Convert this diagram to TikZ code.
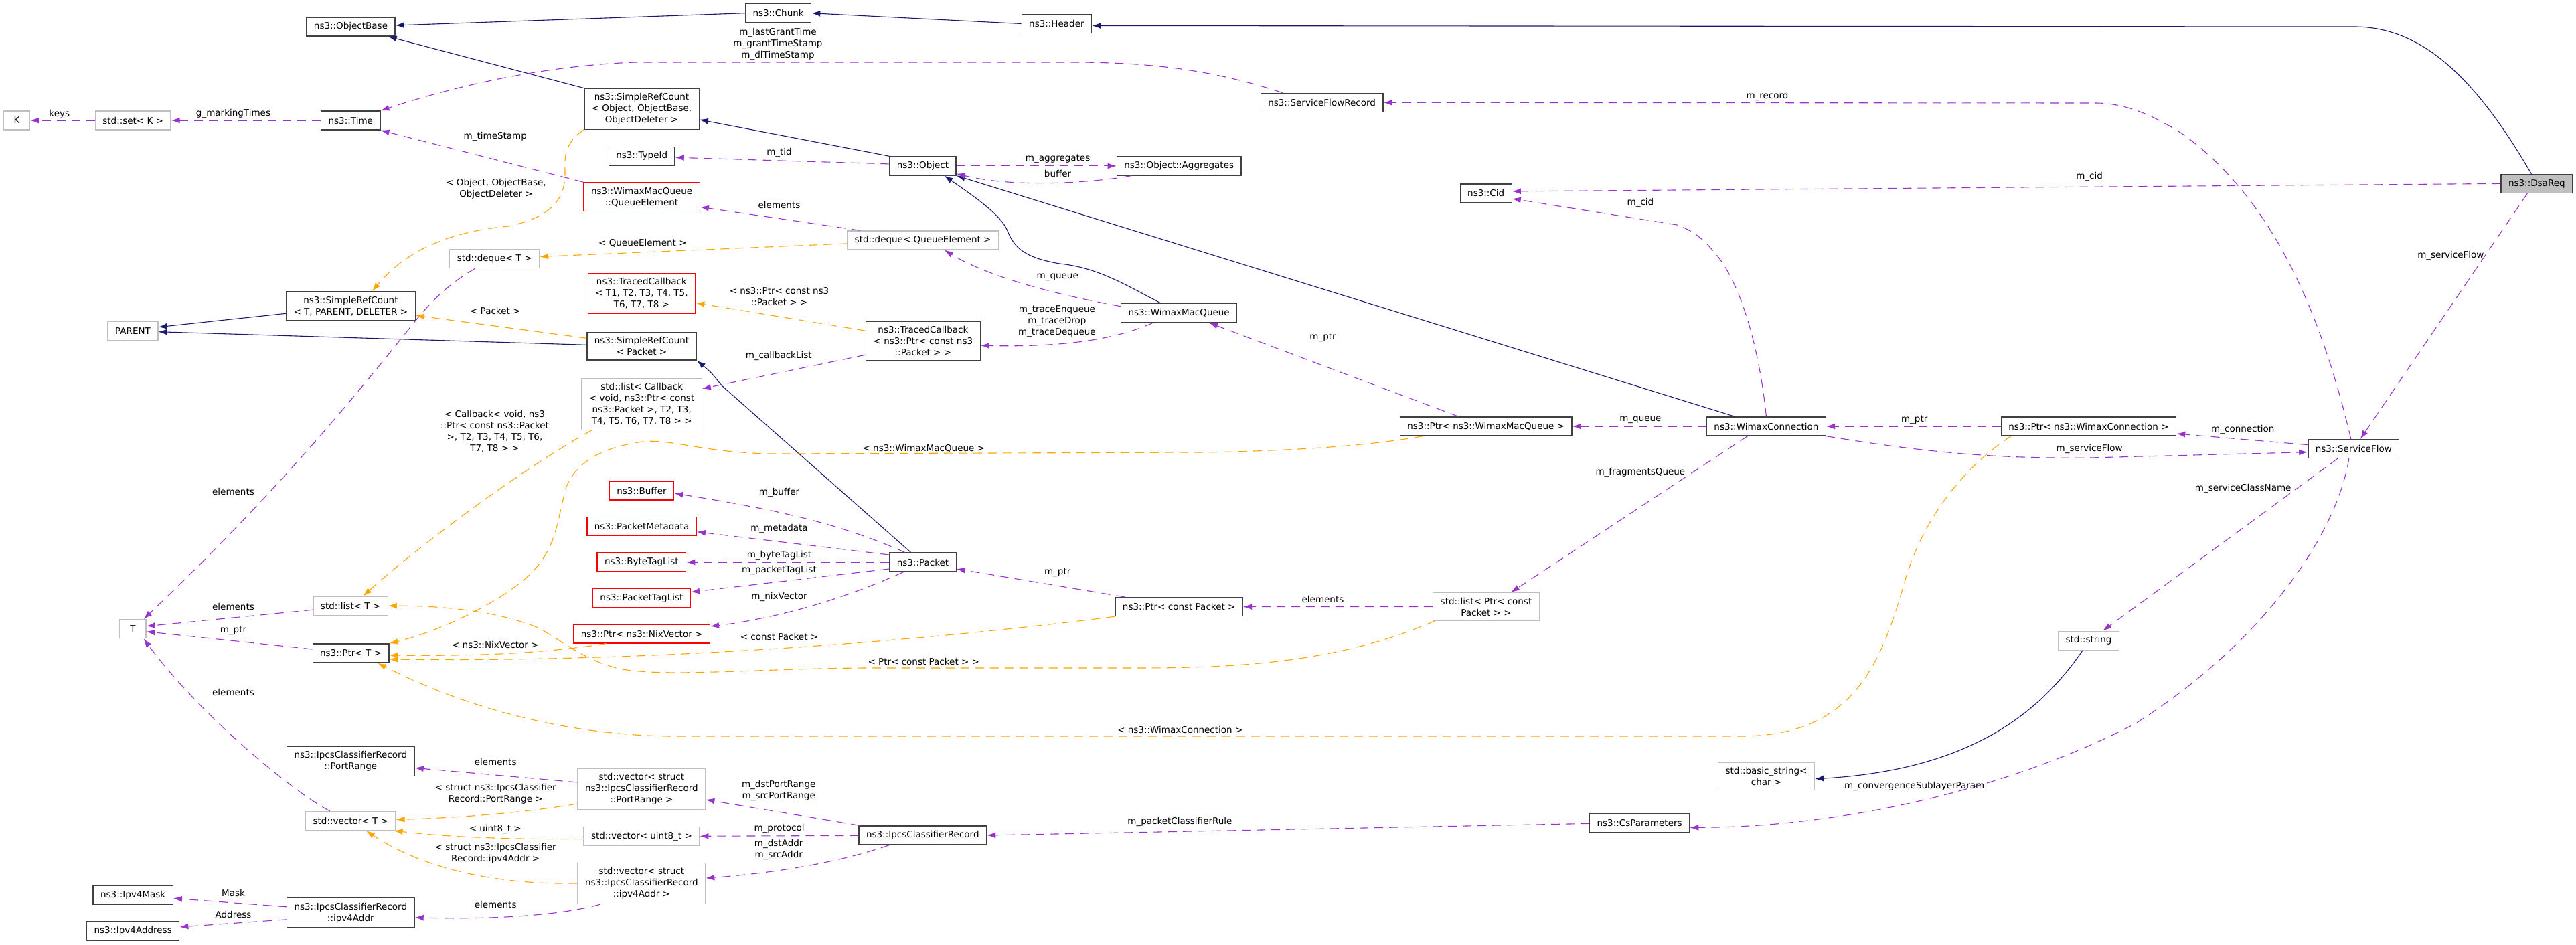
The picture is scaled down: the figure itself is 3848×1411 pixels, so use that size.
\documentclass[tikz,border=0pt]{standalone}
\usepackage{fontspec}
\setmainfont{DejaVu Sans}
\usepackage{tikz}
\usetikzlibrary{arrows.meta}
\definecolor{inhblue}{HTML}{191970}
\definecolor{usepurple}{HTML}{9A32CD}
\definecolor{tplorange}{HTML}{FFA500}
\definecolor{extgrey}{HTML}{BFBFBF}
\definecolor{clsgrey}{HTML}{404040}

\begin{document}
\begin{tikzpicture}[x=1pt, y=-1pt, >={Latex[length=13pt,width=9pt]},
  font=\fontsize{13.5}{17}\selectfont,
  cls/.style={draw=clsgrey, line width=1.3pt, fill=white, inner xsep=11pt,
    inner ysep=7pt, minimum height=28pt, align=center},
  ext/.style={cls, draw=extgrey},
  trunc/.style={cls, draw=red},
  focus/.style={cls, fill=extgrey},
  inh/.style={->, draw=inhblue, line width=1.1pt},
  use/.style={->, draw=usepurple, line width=1.1pt, dash pattern=on 13pt off 9pt},
  tpl/.style={->, draw=tplorange, line width=1.1pt, dash pattern=on 13pt off 9pt},
  lbl/.style={inner sep=0pt, align=center}]
  \useasboundingbox (0,0) rectangle (3848,1411);

  % === Klassen ===
  \node[cls] (objbase) at (524,40) {ns3::ObjectBase};
  \node[cls] (chunk) at (1162.6,19.7) {ns3::Chunk};
  \node[cls] (header) at (1578.4,35.5) {ns3::Header};
  \node[focus] (dsareq) at (3789.3,274.4) {ns3::DsaReq};
  \node[ext, minimum width=39pt] (kk) at (25,180) {K};
  \node[ext] (setk) at (198.7,180) {std::set< K >};
  \node[cls] (time) at (523.8,180) {ns3::Time};
  \node[cls] (srcobj) at (958.5,162.8) {ns3::SimpleRefCount\\< Object, ObjectBase,\\ObjectDeleter >};
  \node[cls] (typeid) at (958.7,233.2) {ns3::TypeId};
  \node[cls] (object) at (1378.5,247.9) {ns3::Object};
  \node[cls] (aggr) at (1761.2,247.9) {ns3::Object::Aggregates};
  \node[cls] (sfrec) at (1974.6,153.3) {ns3::ServiceFlowRecord};
  \node[cls] (cid) at (2219.7,288.9) {ns3::Cid};
  \node[trunc] (qelem) at (958.6,294.3) {ns3::WimaxMacQueue\\::QueueElement};
  \node[ext] (dequeT) at (738.7,386.5) {std::deque< T >};
  \node[ext] (dequeQE) at (1378.6,358.9) {std::deque< QueueElement >};
  \node[cls] (srcT) at (523.9,457.3) {ns3::SimpleRefCount\\< T, PARENT, DELETER >};
  \node[ext] (parent) at (198.5,494.7) {PARENT};
  \node[trunc] (tcT) at (958.4,438.6) {ns3::TracedCallback\\< T1, T2, T3, T4, T5,\\T6, T7, T8 >};
  \node[cls] (wmq) at (1761.1,467.7) {ns3::WimaxMacQueue};
  \node[cls] (tcP) at (1378.9,509.2) {ns3::TracedCallback\\< ns3::Ptr< const ns3\\::Packet > >};
  \node[cls] (srcP) at (958.5,517.3) {ns3::SimpleRefCount\\< Packet >};
  \node[ext] (listCB) at (958.7,603.8) {std::list< Callback\\< void, ns3::Ptr< const\\ns3::Packet >, T2, T3,\\T4, T5, T6, T7, T8 > >};
  \node[cls] (ptrWMQ) at (2219.7,637) {ns3::Ptr< ns3::WimaxMacQueue >};
  \node[cls] (wconn) at (2638.4,637) {ns3::WimaxConnection};
  \node[cls] (ptrWC) at (3119.9,637) {ns3::Ptr< ns3::WimaxConnection >};
  \node[cls] (sflow) at (3515.8,670.6) {ns3::ServiceFlow};
  \node[trunc] (buffer) at (958.5,733.1) {ns3::Buffer};
  \node[trunc] (pmeta) at (958.6,786.7) {ns3::PacketMetadata};
  \node[trunc] (btag) at (958.4,840) {ns3::ByteTagList};
  \node[cls] (packet) at (1378.5,840) {ns3::Packet};
  \node[trunc] (ptag) at (958.4,893.6) {ns3::PacketTagList};
  \node[ext] (listT) at (523.6,905.2) {std::list< T >};
  \node[ext, minimum width=39pt] (tt) at (198.5,939.7) {T};
  \node[cls] (ptrCP) at (1761.2,906.6) {ns3::Ptr< const Packet >};
  \node[ext] (listPCP) at (2220,906.5) {std::list< Ptr< const\\Packet > >};
  \node[trunc] (ptrNix) at (958.6,947) {ns3::Ptr< ns3::NixVector >};
  \node[cls] (ptrT) at (524,976) {ns3::Ptr< T >};
  \node[ext] (stdstr) at (3120,957.2) {std::string};
  \node[cls] (prange) at (523.8,1137.4) {ns3::IpcsClassifierRecord\\::PortRange};
  \node[ext] (vecPR) at (958.4,1178.9) {std::vector< struct\\ns3::IpcsClassifierRecord\\::PortRange >};
  \node[ext] (bstr) at (2638.5,1159.8) {std::basic\_string<\\char >};
  \node[ext] (vecT) at (523.8,1226.5) {std::vector< T >};
  \node[cls] (csparam) at (2449.1,1229.4) {ns3::CsParameters};
  \node[cls] (ipcs) at (1378.3,1248) {ns3::IpcsClassifierRecord};
  \node[ext] (vecU8) at (958.4,1249.6) {std::vector< uint8\_t >};
  \node[ext] (vecIP) at (958.4,1320.1) {std::vector< struct\\ns3::IpcsClassifierRecord\\::ipv4Addr >};
  \node[cls] (ipmask) at (198.7,1337.3) {ns3::Ipv4Mask};
  \node[cls] (ipaddr4) at (523.8,1363.8) {ns3::IpcsClassifierRecord\\::ipv4Addr};
  \node[cls] (ipv4addr) at (198.7,1391) {ns3::Ipv4Address};

  % === Vererbung ===
  \draw[inh] (chunk.west) -- ([yshift=2]objbase.east);
  \draw[inh] (srcobj.north west) -- ([xshift=-11]objbase.south east);
  \draw[inh] (header.west) -- (chunk.east);
  \draw[inh] ([xshift=-8]dsareq.north) .. controls (3700,120) and (3620,40) .. (3517,40)
    -- ([yshift=-3]header.east);
  \draw[inh] (object.north west) -- ([yshift=-16]srcobj.east);
  \draw[inh] ([xshift=-27]wmq.north) .. controls (1680,425) and (1640,400) .. (1583,394)
    .. controls (1530,385) and (1515,370) .. (1505,345)
    .. controls (1495,320) and (1450,290) .. ([xshift=32]object.south);
  \draw[inh] ([xshift=-47]wconn.north) -- (object.south east);
  \draw[inh] ([yshift=-11]srcT.west) -- ([yshift=6]parent.east);
  \draw[inh] ([yshift=2]srcP.west) -- ([yshift=-1]parent.east);
  \draw[inh] ([xshift=-18]packet.north) -- (1078,576) .. controls (1062,556) .. (srcP.south east);
  \draw[inh] ([xshift=-9]stdstr.south) .. controls (3050,1060) and (2950,1150) .. ([yshift=-4]bstr.east);

  % === Verwendung ===
  \draw[use] (setk) -- (kk);
  \draw[use] (time) -- (setk);
  \draw[use] ([xshift=-59]sfrec.north) .. controls (1800,100) and (1700,93) .. (1600,93)
    -- (950,93) .. controls (800,98) and (660,135) .. (time.north east);
  \draw[use] (qelem.north west) -- (time.south east);
  \draw[use] ([yshift=3]object.west) -- ([yshift=-2]typeid.east);
  \draw[use] (object) -- (aggr);
  \draw[use] ([xshift=-71]aggr.south) .. controls (1640,272) and (1520,282) .. ([yshift=3]object.south east);
  \draw[use] ([xshift=-94]dequeQE.north) -- ([yshift=-15]qelem.east);
  \draw[use] ([yshift=10]wmq.west) .. controls (1560,437) and (1470,410) .. ([xshift=32]dequeQE.south);
  \draw[use] ([xshift=-39]wmq.south) .. controls (1650,515) and (1550,518) .. ([yshift=-7]tcP.east);
  \draw[use] ([yshift=-21]tcP.west) -- ([yshift=23]listCB.east);
  \draw[use] (dsareq.west) -- ([yshift=3]cid.east);
  \draw[use] (wconn.north) .. controls (2628,520) and (2600,420) .. (2560,376)
    .. controls (2545,358) and (2530,345) .. (2505,336) -- ([yshift=-8]cid.east);
  \draw[use] ([xshift=-4]sflow.north) .. controls (3470,480) and (3400,300) .. (3260,200)
    .. controls (3210,168) and (3170,154) .. (3130,154) -- (sfrec.east);
  \draw[use] ([xshift=-14]dsareq.south) -- ([xshift=10]sflow.north);
  \draw[use] (wconn) -- (ptrWMQ);
  \draw[use] ([xshift=-41]ptrWMQ.north) -- ([xshift=45]wmq.south);
  \draw[use] (ptrWC) -- (wconn);
  \draw[use] ([yshift=6]sflow.west) -- ([yshift=-11]ptrWC.east);
  \draw[use] (wconn.south east) .. controls (2900,680) and (3000,685) .. (3121,684)
    -- ([yshift=-5]sflow.west);
  \draw[use] ([xshift=-24]sflow.south) -- ([xshift=21]stdstr.north);
  \draw[use] ([xshift=-7]sflow.south) .. controls (3490,800) and (3380,960) .. (3190,1081)
    .. controls (3000,1180) and (2750,1236) .. ([yshift=-7]csparam.east);
  \draw[use] ([yshift=-1]csparam.west) -- (ipcs.east);
  \draw[use] ([xshift=-94]ipcs.north) -- ([yshift=-16]vecPR.east);
  \draw[use] (ipcs) -- (vecU8);
  \draw[use] ([xshift=-50]ipcs.south) .. controls (1250,1290) and (1150,1305) .. ([yshift=8]vecIP.east);
  \draw[use] ([yshift=10]vecPR.west) -- ([yshift=-10]prange.east);
  \draw[use] ([xshift=-62]vecIP.south) .. controls (820,1372) and (700,1373) .. ([yshift=-7]ipaddr4.east);
  \draw[use] ([yshift=9]ipaddr4.west) -- ([yshift=-5]ipmask.east);
  \draw[use] ([yshift=-10]ipaddr4.west) -- ([yshift=6]ipv4addr.east);
  \draw[use] ([xshift=-29]dequeT.south) .. controls (665,428) and (645,450) .. (620,480)
    .. controls (540,580) and (420,730) .. ([xshift=16]tt.north);
  \draw[use] ([yshift=-6]listT.west) -- ([yshift=4]tt.east);
  \draw[use] ([yshift=6]ptrT.west) -- ([yshift=-4]tt.east);
  \draw[use] ([xshift=-31]vecT.north) .. controls (440,1185) and (300,1070) .. ([xshift=16]tt.south);
  \draw[use] (listPCP) -- (ptrCP);
  \draw[use] ([xshift=-81]ptrCP.north) -- ([yshift=-10]packet.east);
  \draw[use] ([xshift=-28]wconn.south) -- ([xshift=37]listPCP.north);
  \draw[use] ([xshift=-27]packet.north) .. controls (1250,780) and (1150,760) .. ([yshift=-4]buffer.east);
  \draw[use] ([yshift=11]packet.west) -- ([yshift=-8]pmeta.east);
  \draw[use] (packet) -- (btag);
  \draw[use] ([yshift=-10]packet.west) -- ([yshift=9]ptag.east);
  \draw[use] ([xshift=-29]packet.south) .. controls (1250,900) and (1150,925) .. ([yshift=11]ptrNix.east);

  % === Templates ===
  \draw[tpl] (srcobj.south west) .. controls (840,215) and (844,240) .. (844,260)
    .. controls (844,300) and (820,325) .. (760,338)
    .. controls (680,345) and (610,370) .. ([xshift=32]srcT.north);
  \draw[tpl] ([yshift=12]srcP.west) -- ([yshift=-14]srcT.east);
  \draw[tpl] ([yshift=-5]dequeQE.west) -- ([yshift=3]dequeT.east);
  \draw[tpl] ([yshift=15]tcP.west) -- ([yshift=-14]tcT.east);
  \draw[tpl] ([xshift=-75]listCB.south) .. controls (780,700) and (620,820) .. ([xshift=19]listT.north);
  \draw[tpl] ([xshift=-94]ptrWMQ.south) .. controls (2050,665) and (1950,673) .. (1800,676)
    -- (1150,678) .. controls (1050,676) and (1000,655) .. (960,660)
    .. controls (900,668) and (860,690) .. (845,730)
    .. controls (830,790) and (830,820) .. (790,860)
    .. controls (740,905) and (650,945) .. (ptrT.north east);
  \draw[tpl] ([xshift=-53]ptrNix.south) .. controls (800,978) and (700,980) .. ([yshift=-3]ptrT.east);
  \draw[tpl] (ptrCP.south west) .. controls (1400,955) and (1000,990) .. ([yshift=-9]ptrT.east);
  \draw[tpl] ([xshift=-77]listPCP.south) .. controls (2000,990) and (1850,998) .. (1700,998)
    -- (1300,998) .. controls (1150,998) and (1000,1012) .. (930,1000)
    .. controls (880,990) and (850,965) .. (808,940)
    .. controls (760,918) and (680,905) .. (listT.east);
  \draw[tpl] ([xshift=-116]ptrWC.south) .. controls (2930,700) and (2870,780) .. (2845,870)
    .. controls (2810,990) and (2770,1100) .. (2600,1100)
    -- (1000,1100) .. controls (850,1098) and (700,1060) .. ([xshift=40]ptrT.south);
  \draw[tpl] ([yshift=-22]vecPR.west) .. controls (780,1215) and (680,1222) .. ([yshift=2]vecT.east);
  \draw[tpl] ([yshift=-4]vecU8.west) .. controls (780,1254) and (680,1252) .. ([xshift=-3]vecT.south east);
  \draw[tpl] (vecIP.west) .. controls (720,1322) and (620,1290) .. ([xshift=23]vecT.south);

  % === Beschriftungen ===
  \node[lbl] (lkeys) at (88.8,170.3) {keys};
  \node[lbl] (lmark) at (348.5,170.3) {g\_markingTimes};
  \node[lbl] (lgrant) at (1162,65.7) {m\_lastGrantTime\\m\_grantTimeStamp\\m\_dlTimeStamp};
  \node[lbl] (lstamp) at (739.8,204.2) {m\_timeStamp};
  \node[lbl] (lobjt) at (741,282.4) {< Object, ObjectBase,\\ObjectDeleter >};
  \node[lbl] (ltid) at (1164,227.8) {m\_tid};
  \node[lbl] (lelq) at (1164,306) {elements};
  \node[lbl] (lqet) at (959.9,363.2) {< QueueElement >};
  \node[lbl] (laggr) at (1580.1,237.7) {m\_aggregates};
  \node[lbl] (lbuf) at (1580.1,259.5) {buffer};
  \node[lbl] (lrec) at (2640,144) {m\_record};
  \node[lbl] (lcida) at (3121.1,264) {m\_cid};
  \node[lbl] (lcidb) at (2450.4,302.9) {m\_cid};
  \node[lbl] (lsfa) at (3660.8,381.7) {m\_serviceFlow};
  \node[lbl] (ltcpt) at (1164,443.5) {< ns3::Ptr< const ns3\\::Packet > >};
  \node[lbl] (lpkt) at (739.8,464.1) {< Packet >};
  \node[lbl] (lqueue) at (1579.7,414.8) {m\_queue};
  \node[lbl] (ltrace) at (1578.9,480.4) {m\_traceEnqueue\\m\_traceDrop\\m\_traceDequeue};
  \node[lbl] (lcbl) at (1163.2,532) {m\_callbackList};
  \node[lbl] (lptra) at (1976,504) {m\_ptr};
  \node[lbl] (lcbt) at (739,644.8) {< Callback< void, ns3\\::Ptr< const ns3::Packet\\>, T2, T3, T4, T5, T6,\\T7, T8 > >};
  \node[lbl] (lqueueb) at (2450.4,627.1) {m\_queue};
  \node[lbl] (lptrb) at (2859.7,627.1) {m\_ptr};
  \node[lbl] (lconn) at (3350.3,642.1) {m\_connection};
  \node[lbl] (lsfb) at (3121.1,670.6) {m\_serviceFlow};
  \node[lbl] (lwmqt) at (1379.8,670.6) {< ns3::WimaxMacQueue >};
  \node[lbl] (lfrag) at (2450.4,706) {m\_fragmentsQueue};
  \node[lbl] (lscn) at (3350.7,730) {m\_serviceClassName};
  \node[lbl] (lela) at (348.5,734) {elements};
  \node[lbl] (lbuffer) at (1164,735.8) {m\_buffer};
  \node[lbl] (lmeta) at (1164,790.2) {m\_metadata};
  \node[lbl] (lbyte) at (1164,830.1) {m\_byteTagList};
  \node[lbl] (lptl) at (1164,851.9) {m\_packetTagList};
  \node[lbl] (lnix) at (1164,892.3) {m\_nixVector};
  \node[lbl] (lptrc) at (1579.7,855.1) {m\_ptr};
  \node[lbl] (lelp) at (1976,895.9) {elements};
  \node[lbl] (lelb) at (348.5,906.8) {elements};
  \node[lbl] (lptrd) at (348.5,942.1) {m\_ptr};
  \node[lbl] (lcpt) at (1164,951.2) {< const Packet >};
  \node[lbl] (lnixt) at (739.8,963.9) {< ns3::NixVector >};
  \node[lbl] (lpcpt) at (1379.8,988) {< Ptr< const Packet > >};
  \node[lbl] (lelc) at (348.5,1034.6) {elements};
  \node[lbl] (lwct) at (1762.8,1090) {< ns3::WimaxConnection >};
  \node[lbl] (lelr) at (740.2,1138.9) {elements};
  \node[lbl] (lport) at (1163.2,1181.1) {m\_dstPortRange\\m\_srcPortRange};
  \node[lbl] (lprt) at (740.2,1186.4) {< struct ns3::IpcsClassifier\\Record::PortRange >};
  \node[lbl] (lconv) at (2859.7,1174.8) {m\_convergenceSublayerParam};
  \node[lbl] (lrule) at (1762.4,1227.8) {m\_packetClassifierRule};
  \node[lbl] (lu8t) at (739.8,1239.2) {< uint8\_t >};
  \node[lbl] (lproto) at (1164,1238.3) {m\_protocol};
  \node[lbl] (laddr) at (1163.2,1269.3) {m\_dstAddr\\m\_srcAddr};
  \node[lbl] (lipt) at (740.2,1275.4) {< struct ns3::IpcsClassifier\\Record::ipv4Addr >};
  \node[lbl] (lmask) at (348.5,1334) {Mask};
  \node[lbl] (lelv) at (740.2,1351.6) {elements};
  \node[lbl] (ladr) at (348.5,1366.1) {Address};
\end{tikzpicture}
\end{document}
